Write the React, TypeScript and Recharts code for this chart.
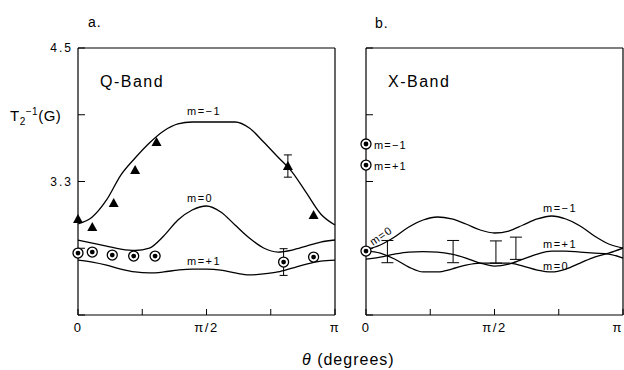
import { ComposedChart, Line, Scatter, XAxis, YAxis, ErrorBar } from "recharts";

// angle grid in degrees (0 .. pi)
const theta = [0, 10, 20, 30, 40, 50, 60, 70, 80, 90, 100, 110, 120, 130, 140, 150, 160, 170, 180];

// Q-band fitted curves
const qMinus = [2.918, 2.981, 3.134, 3.358, 3.511, 3.646, 3.754, 3.817, 3.835, 3.835, 3.835, 3.835, 3.781, 3.655, 3.52, 3.385, 3.197, 3.008, 2.909];
const qZero = [2.774, 2.747, 2.72, 2.693, 2.68, 2.702, 2.81, 2.954, 3.044, 3.08, 3.026, 2.909, 2.792, 2.702, 2.666, 2.684, 2.72, 2.756, 2.774];
const qPlus = [2.594, 2.576, 2.549, 2.513, 2.487, 2.478, 2.487, 2.504, 2.513, 2.513, 2.504, 2.478, 2.46, 2.469, 2.487, 2.522, 2.558, 2.585, 2.594];

// X-band fitted curves
const xMinus = [2.684, 2.729, 2.801, 2.891, 2.954, 2.981, 2.963, 2.918, 2.864, 2.837, 2.855, 2.909, 2.963, 2.99, 2.963, 2.9, 2.81, 2.738, 2.702];
const xZero = [2.675, 2.657, 2.603, 2.531, 2.487, 2.487, 2.513, 2.549, 2.567, 2.567, 2.567, 2.54, 2.504, 2.487, 2.513, 2.567, 2.621, 2.657, 2.702];
const xPlus = [2.603, 2.621, 2.648, 2.666, 2.67, 2.666, 2.648, 2.612, 2.567, 2.54, 2.558, 2.603, 2.648, 2.675, 2.675, 2.666, 2.657, 2.648, 2.612];

// Q-band measurements
const qTriTheta = [0, 10, 25, 40, 55, 147, 165];
const qTriT2 = [2.963, 2.891, 3.107, 3.403, 3.655, 3.439, 2.999];
const qTriErr = [null, null, null, null, null, 0.1, null];
const qRingTheta = [0, 10, 24, 39, 54, 144, 165];
const qRingT2 = [2.657, 2.666, 2.639, 2.63, 2.63, 2.576, 2.621];
const qRingErr = [null, null, null, null, null, 0.12, null];

// X-band measurements
const xRingTheta = [0, 0, 0];
const xRingT2 = [3.637, 3.448, 2.675];
const xBarTheta = [15, 61, 91, 105];
const xBarT2 = [2.67, 2.67, 2.666, 2.7];
const xBarErr = [0.1, 0.1, 0.1, 0.1];

const yTicks = [2.1, 2.7, 3.3, 3.9, 4.5];
const yLabelled = [3.3, 4.5];
const xTicks = [0, 45, 90, 135, 180];
const xTickText: Record<number, string> = { 0: "0", 90: "π/2", 180: "π" };

const FONT = "'Liberation Sans', Arial, sans-serif";

const curves = (a: number[], b: number[], c: number[]) =>
  theta.map((t, i) => ({ theta: t, m1: a[i], m0: b[i], p1: c[i] }));
const points = (ts: number[], vs: number[], es?: (number | null)[]) =>
  ts.map((t, i) => ({ theta: t, t2: vs[i], err: es ? es[i] : null }));

const qCurves = curves(qMinus, qZero, qPlus);
const xCurves = curves(xMinus, xZero, xPlus);

const Tri = (props: any) => {
  const { cx, cy } = props;
  if (cx == null) return <g />;
  return <path d={`M${cx},${cy - 5} L${cx + 5},${cy + 4} L${cx - 5},${cy + 4} Z`} fill="#000" />;
};

const Ring = (props: any) => {
  const { cx, cy } = props;
  if (cx == null) return <g />;
  return (
    <g>
      <circle cx={cx} cy={cy} r={5} fill="#fff" stroke="#000" strokeWidth={1.3} />
      <circle cx={cx} cy={cy} r={2.4} fill="#000" />
    </g>
  );
};

const NoMark = () => <g />;

const tickStyle = { fontSize: 12, fill: "#000", fontFamily: FONT, letterSpacing: 2 };
const axisLine = { stroke: "#000", strokeWidth: 1.2 };

// bottom tick labels; the last one of panel b sits at the page edge
const makeXTick = (endAnchor: boolean) => (props: any) => {
  const { x, y, payload } = props;
  const s = xTickText[payload.value] ?? "";
  const anchor = endAnchor && payload.value === 180 ? "end" : "middle";
  return (
    <text x={x} y={y} dy="0.71em" textAnchor={anchor} fontSize={13} letterSpacing={1.5} fontFamily={FONT} fill="#000">
      {s}
    </text>
  );
};

// axes need a non-zero size to be drawn, so each takes 1px of the margin
const Panel = ({ data, width, left, right, showYLabels, endAnchor, children }: any) => (
  <ComposedChart
    width={width}
    height={370}
    data={data}
    margin={{ top: 47, right: right - 1, bottom: 54, left: left - 1 }}
  >
    <XAxis
      dataKey="theta"
      type="number"
      domain={[0, 180]}
      ticks={xTicks}
      interval={0}
      tick={makeXTick(endAnchor)}
      tickSize={-6}
      tickMargin={14}
      tickLine={{ stroke: "#000" }}
      axisLine={axisLine}
      height={1}
    />
    <XAxis xAxisId="top" orientation="top" type="number" domain={[0, 180]} tick={false} tickLine={false} axisLine={axisLine} height={1} />
    <YAxis
      type="number"
      domain={[2.1, 4.5]}
      ticks={yTicks}
      interval={0}
      tickFormatter={(v: number) => (showYLabels && yLabelled.includes(v) ? v.toFixed(1) : "")}
      tick={tickStyle}
      tickSize={-7}
      tickMargin={12}
      tickLine={{ stroke: "#000" }}
      axisLine={axisLine}
      width={1}
    />
    <YAxis
      yAxisId="r"
      orientation="right"
      type="number"
      domain={[2.1, 4.5]}
      ticks={[2.7, 3.3, 3.9]}
      interval={0}
      tick={false}
      tickSize={-7}
      tickLine={{ stroke: "#000" }}
      axisLine={axisLine}
      width={1}
    />
    <Line dataKey="m1" type="monotone" stroke="#000" strokeWidth={1.3} dot={false} activeDot={false} isAnimationActive={false} />
    <Line dataKey="m0" type="monotone" stroke="#000" strokeWidth={1.3} dot={false} activeDot={false} isAnimationActive={false} />
    <Line dataKey="p1" type="monotone" stroke="#000" strokeWidth={1.3} dot={false} activeDot={false} isAnimationActive={false} />
    {children}
  </ComposedChart>
);

const Txt = ({ x, y, size = 12, spacing = 1, children, ...rest }: any) => (
  <text x={x} y={y} fontSize={size} fontFamily={FONT} letterSpacing={spacing} fill="#000" {...rest}>
    {children}
  </text>
);

export default function App() {
  return (
    <div style={{ position: "absolute", left: 0, top: 0, width: 624, height: 370, background: "#fff", overflow: "hidden" }}>
      <div style={{ position: "absolute", left: 0, top: 0 }}>
        <Panel data={qCurves} width={340} left={78} right={5} showYLabels endAnchor={false}>
          <Scatter data={points(qTriTheta, qTriT2, qTriErr)} dataKey="t2" shape={Tri} isAnimationActive={false}>
            <ErrorBar dataKey="err" direction="y" width={4} stroke="#000" strokeWidth={1} />
          </Scatter>
          <Scatter data={points(qRingTheta, qRingT2, qRingErr)} dataKey="t2" shape={Ring} isAnimationActive={false}>
            <ErrorBar dataKey="err" direction="y" width={4} stroke="#000" strokeWidth={1} />
          </Scatter>
        </Panel>
      </div>
      <div style={{ position: "absolute", left: 340, top: 0 }}>
        <Panel data={xCurves} width={284} left={26} right={1} showYLabels={false} endAnchor>
          <Scatter data={points(xBarTheta, xBarT2, xBarErr)} dataKey="t2" shape={NoMark} isAnimationActive={false}>
            <ErrorBar dataKey="err" direction="y" width={6} stroke="#000" strokeWidth={1} />
          </Scatter>
          <Scatter data={points(xRingTheta, xRingT2)} dataKey="t2" shape={Ring} isAnimationActive={false} />
        </Panel>
      </div>
      <svg width={624} height={370} style={{ position: "absolute", left: 0, top: 0, pointerEvents: "none" }}>
        <Txt x={88} y={27} size={14}>a.</Txt>
        <Txt x={375} y={28} size={14}>b.</Txt>
        <Txt x={100} y={87} size={16} spacing={1.5}>Q-Band</Txt>
        <Txt x={388} y={87} size={16} spacing={1.5}>X-Band</Txt>
        <Txt x={10} y={121} size={15} spacing={0.5}>
          T<tspan fontSize={10} dy={4}>2</tspan>
          <tspan fontSize={10} dy={-10}>−1</tspan>
          <tspan dy={6}>(G)</tspan>
        </Txt>
        <Txt x={187} y={115} size={11} spacing={1.5}>m=−1</Txt>
        <Txt x={187} y={202} size={11} spacing={1.5}>m=0</Txt>
        <Txt x={187} y={265} size={11} spacing={1.5}>m=+1</Txt>
        <Txt x={374} y={149} size={11} spacing={1.2}>m=−1</Txt>
        <Txt x={374} y={170} size={11} spacing={1.2}>m=+1</Txt>
        <Txt x={543} y={212} size={11} spacing={1.5}>m=−1</Txt>
        <Txt x={543} y={248} size={11} spacing={1.5}>m=+1</Txt>
        <Txt x={543} y={270} size={11} spacing={1.5}>m=0</Txt>
        <Txt x={373} y={246} size={11} spacing={1} transform="rotate(-35 373 246)">m=0</Txt>
        <Txt x={302} y={365} size={16} spacing={1}>
          <tspan fontStyle="italic">θ</tspan> (degrees)
        </Txt>
      </svg>
    </div>
  );
}
